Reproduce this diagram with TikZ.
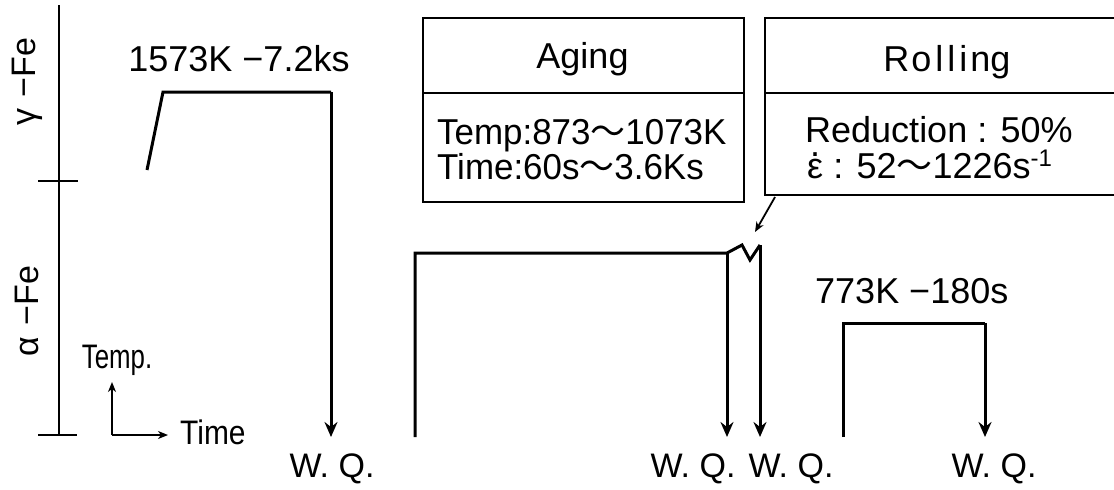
\documentclass[tikz,border=0pt]{standalone}
\usepackage{fontspec}
\usepackage{graphicx}
\setmainfont{Liberation Sans}
\newfontfamily\cjk{Noto Sans CJK JP}
\usetikzlibrary{arrows.meta}
\newcommand\wave{{\cjk ～}}
\newcommand\epsdot{\ooalign{ε\cr\hidewidth\raisebox{0.6em}{.}\hidewidth\cr}}
\newcommand\perunit{\raisebox{0.33em}{\fontsize{24}{24}\selectfont -1}}
\newcommand\narrow[2]{\scalebox{#1}[1]{#2}}
\tikzset{
  lbl/.style={inner sep=0pt, font=\fontsize{36}{40}\selectfont},
  small/.style={inner sep=0pt, font=\fontsize{34}{38}\selectfont},
  rows/.style={inner sep=0pt, align=left, anchor=north west, font=\fontsize{36}{#1}\selectfont},
  axis/.style={line width=1.6pt},
  boxline/.style={line width=1.8pt},
  profile/.style={line width=3pt, line join=miter},
  quench/.style={line width=3pt, -{Stealth[length=15pt,width=13pt,inset=5pt]}},
  pointer/.style={line width=1.8pt, -{Stealth[length=10pt,width=8pt,inset=3pt]}},
}
\begin{document}
\begin{tikzpicture}[x=1pt,y=-1pt]
\useasboundingbox (0,0) rectangle (1114,490);

% phase axis
\coordinate (axtop) at (59,5);
\coordinate (axbot) at (59,435);
\draw[axis] (axtop) -- (axbot);
\draw[axis] (38,181) -- (78,181);
\draw[axis] (38,435) -- (77,435);
\node[small, rotate=90] (gammafe) at (27,82) {γ\,\,−Fe};
\node[small, rotate=90] (alphafe) at (27,311) {α\,\,−Fe};

% orientation key
\coordinate (keyo) at (112,435);
\coordinate (keyup) at (112,382);
\coordinate (keyright) at (168,435);
\draw[pointer, line width=1.4pt] (keyo) -- (keyup);
\draw[pointer, line width=1.4pt] (keyo) -- (keyright);
\node[small, anchor=base] (keytemp) at (117,368) {\narrow{0.76}{Temp.}};
\node[small, anchor=base west] (keytime) at (180,444) {\narrow{0.88}{Time}};

% solution treatment
\coordinate (s1) at (147,170);
\coordinate (s2) at (163,92);
\coordinate (s3) at (331,92);
\coordinate (s4) at (331,437);
\draw[profile] (s1) -- (s2) -- (s3);
\draw[quench] (s3) -- (s4);
\node[lbl, anchor=base] (solnote) at (239,71) {1573K −7.2ks};
\node[small, anchor=base] (wq1) at (332,477) {W. Q.};

% aging box
\node[boxline, draw, anchor=north west, minimum width=321pt, minimum height=184pt, inner sep=0pt] (agingbox) at (422,17) {};
\draw[boxline] (422,93) -- (743,93);
\node[lbl, anchor=base] (agingtitle) at (582.5,68) {Aging};
\node[rows=35] (agingcond) at (437,119)
  {\narrow{0.97}{Temp:873\wave 1073K}\\ \narrow{0.97}{Time:60s\wave 3.6Ks}};

% rolling box (open to the right)
\draw[boxline] (1116,18) -- (765,18) -- (765,195) -- (1116,195);
\draw[boxline] (765,93) -- (1116,93);
\node[lbl, anchor=base] (rolltitle) at (947,71) {R\kern2pt o\kern4pt l\kern4pt l\kern4pt i\kern3pt ng};
\node[rows=36] (rollcond) at (805,116)
  {Reduction : 50\%\\ \kern2pt\epsdot\ : 52\wave 1226s\perunit};
\coordinate (rollfoot) at (775,197);
\coordinate (rolltip) at (755,232);
\draw[pointer] (rollfoot) -- (rolltip);

% aging and rolling profile
\coordinate (a1) at (415,437);
\coordinate (a2) at (415,253);
\coordinate (a3) at (727,253);
\coordinate (a4) at (727,437);
\coordinate (z1) at (742,245);
\coordinate (z2) at (750,260);
\coordinate (z3) at (760,245);
\coordinate (z4) at (760,437);
\draw[profile] (a1) -- (a2) -- (a3) -- (z1) -- (z2) -- (z3);
\draw[quench] (a3) -- (a4);
\draw[quench] (z3) -- (z4);
\node[small, anchor=base] (wq2) at (693,477) {W. Q.};
\node[small, anchor=base] (wq3) at (791,477) {W. Q.};

% final annealing
\coordinate (f1) at (843,437);
\coordinate (f2) at (843,323);
\coordinate (f3) at (985,323);
\coordinate (f4) at (985,437);
\draw[profile] (f1) -- (f2) -- (f3);
\draw[quench] (f3) -- (f4);
\node[lbl, anchor=base west] (finalnote) at (815,303) {773K −180s};
\node[small, anchor=base] (wq4) at (994,477) {W. Q.};
\end{tikzpicture}
\end{document}
